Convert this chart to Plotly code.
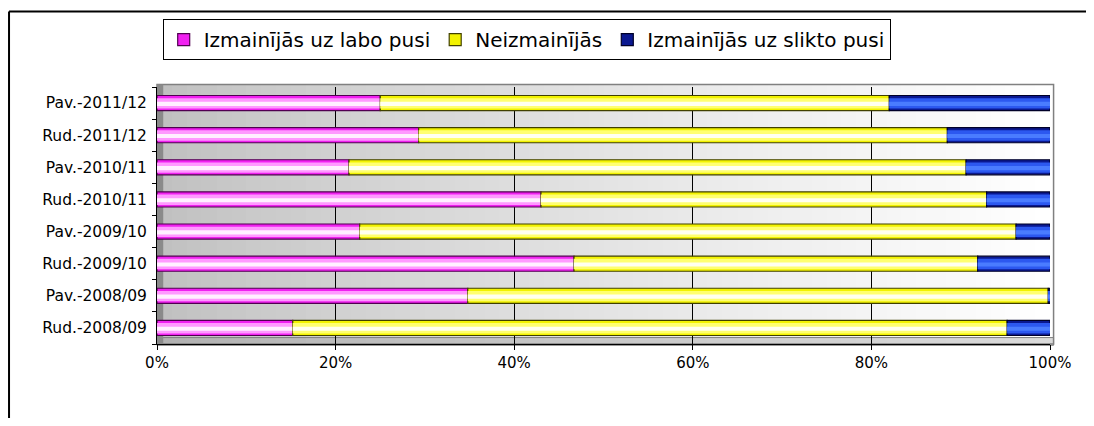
import plotly.graph_objects as go

# categories from bottom to top (plotly puts the first category at the bottom)
categories = ['Rud.-2008/09', 'Pav.-2008/09', 'Rud.-2009/10', 'Pav.-2009/10',
              'Rud.-2010/11', 'Pav.-2010/11', 'Rud.-2011/12', 'Pav.-2011/12']
labo = [15.2, 34.8, 46.7, 22.7, 43.0, 21.5, 29.3, 25.0]
neizm = [80.0, 65.0, 45.2, 73.5, 49.9, 69.1, 59.2, 57.0]
slikto = [4.8, 0.2, 8.1, 3.8, 7.1, 9.4, 11.5, 18.0]
series_names = ['Izmainījās uz labo pusi', 'Neizmainījās', 'Izmainījās uz slikto pusi']
tick_vals = [0, 20, 40, 60, 80, 100]
tick_text = ['0%', '20%', '40%', '60%', '80%', '100%']

series = [labo, neizm, slikto]
# outer colour, mid colour, highlight colour, outline
styles = [('#f020f0', '#ff99ff', '#fff0ff', '#500050'),
          ('#f2f200', '#ffff70', '#fffff0', '#404000'),
          ('#0a1890', '#2c58f0', '#4a7cff', '#000028')]

fig = go.Figure()
base = [0] * len(categories)
for name, vals, (c_out, c_mid, c_in, c_line) in zip(series_names, series, styles):
    fig.add_trace(go.Bar(y=categories, x=vals, base=base, orientation='h', name=name,
                         width=0.47, marker=dict(color=c_out, line=dict(color=c_line, width=1.2)),
                         hoverinfo='x+y'))
    fig.add_trace(go.Bar(y=categories, x=vals, base=base, orientation='h', name=name,
                         width=0.32, offset=-0.17, showlegend=False,
                         marker=dict(color=c_mid, line=dict(width=0)), hoverinfo='skip'))
    fig.add_trace(go.Bar(y=categories, x=vals, base=base, orientation='h', name=name,
                         width=0.13, offset=-0.09, showlegend=False,
                         marker=dict(color=c_in, line=dict(width=0)), hoverinfo='skip'))
    base = [b + v for b, v in zip(base, vals)]

# back wall gradient (grey to white)
shapes = []
n = 60
for i in range(n):
    t = i / (n - 1)
    g = int(192 + 63 * (t ** 0.8))
    shapes.append(dict(type='rect', xref='x', yref='paper', x0=100 * i / n, x1=100 * (i + 1) / n + 0.5,
                       y0=0, y1=1.01, fillcolor='rgb(%d,%d,%d)' % (g, g, g), line=dict(width=0), layer='below'))
# floor strip
shapes.append(dict(type='rect', xref='paper', yref='paper', x0=0, x1=1.004, y0=-0.005, y1=0.025,
                   fillcolor='rgba(150,150,150,0.35)', line=dict(color='#808080', width=1), layer='below'))
# wall outline and left side wall
shapes.append(dict(type='rect', xref='paper', yref='paper', x0=0, x1=1.004, y0=0, y1=1.01,
                   line=dict(color='#808080', width=1.5), layer='below'))
shapes.append(dict(type='rect', xref='paper', yref='paper', x0=0, x1=0.007, y0=0, y1=1.01,
                   fillcolor='#8a8a8a', line=dict(width=0), layer='below'))
# outer chart frame (left and top edges)
shapes.append(dict(type='line', xref='paper', yref='paper', x0=-0.1657, x1=-0.1657, y0=1.294, y1=-0.4,
                   line=dict(color='black', width=2)))
shapes.append(dict(type='line', xref='paper', yref='paper', x0=-0.1657, x1=1.1, y0=1.294, y1=1.294,
                   line=dict(color='black', width=2)))

# page body adds an 8px margin, so the figure is a bit smaller than the window
fig.update_layout(
    width=1078, height=410,
    margin=dict(l=149, r=36, t=78, b=74),
    paper_bgcolor='white', plot_bgcolor='rgba(0,0,0,0)',
    barmode='overlay', bargap=0.5,
    font=dict(family='DejaVu Sans, Arial', color='black'),
    showlegend=True,
    legend=dict(orientation='h', x=0.414, xanchor='center', y=1.18, yanchor='middle',
                bgcolor='white', bordercolor='black', borderwidth=1,
                font=dict(size=20), itemwidth=30, traceorder='normal'),
    shapes=shapes,
)
fig.update_xaxes(range=[0, 100], tickvals=tick_vals, ticktext=tick_text, tickfont=dict(size=15),
                 showgrid=True, gridcolor='black', gridwidth=1, zeroline=False,
                 showline=True, linecolor='black', linewidth=1, ticks='outside', ticklen=5,
                 tickcolor='black')
fig.update_yaxes(type='category', categoryorder='array', categoryarray=categories,
                 tickfont=dict(size=15.5), showgrid=False, showline=True, linecolor='black',
                 linewidth=1, ticks='outside', ticklen=4, tickcolor='black', tickson='boundaries',
                 ticklabelstandoff=6)

fig.write_html("out.html")
